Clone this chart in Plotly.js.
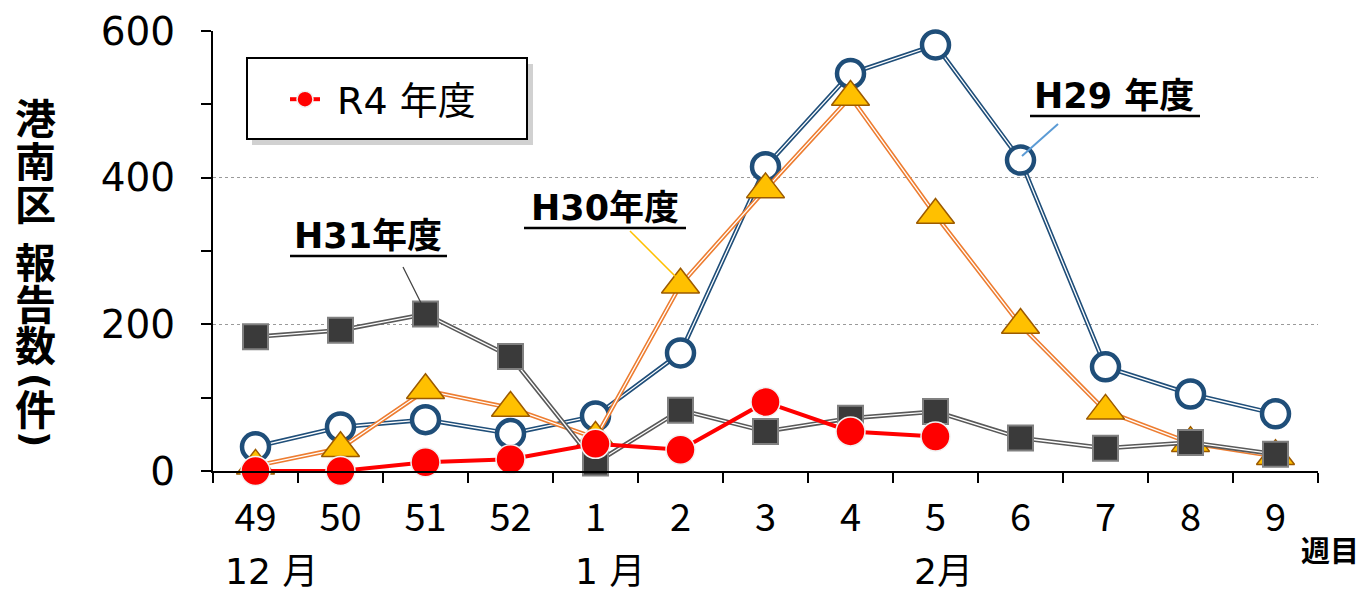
<!DOCTYPE html>
<html>
<head>
<meta charset="utf-8">
<script src="https://cdn.plot.ly/plotly-3.0.1.min.js"></script>
<style>html,body{margin:0;padding:0;background:#fff;}#chart{width:1365px;height:594px;}</style>
</head>
<body>
<div id="chart"></div>
<script>
// ---- data ----
const weeks = ['49','50','51','52','1','2','3','4','5','6','7','8','9'];
const h29 = [33, 60, 70, 51, 75, 161, 415, 542, 581, 424, 142, 105, 78];
const h30 = [7, 31, 110, 86, 45, 254, 384, 510, 349, 199, 82, 38, 20];
const h31 = [183, 192, 214, 156, 11, 83, 54, 72, 81, 45, 31, 39, 23];
const r4  = [0, 0, 12, 16, 37, 29, 94, 54, 47];
const r4Weeks = weeks.slice(0, r4.length);
const months = ['12 月', '1 月', '2月'];
const unitLabel = '週目';
// y-axis title, written vertically (parentheses are rotated)
const yTitleChars = ['港','南','区','報','告','数','(','件',')'];

// ---- layout helpers (pixel -> paper) ----
const L = 213, R = 1318, T = 31, B = 471;
const px = x => (x - L) / (R - L);
const py = y => (B - y) / (B - T);

const LATIN = "'DejaVu Sans', 'Noto Sans CJK JP', sans-serif";
const NARROW = "'Liberation Sans Narrow', 'Noto Sans CJK JP', sans-serif";
const CJK = "'Noto Sans CJK JP', sans-serif";

function doubleLine(x, y, color) {
  return [
    {x: x, y: y, type: 'scatter', mode: 'lines', line: {color: color, width: 4.5}, hoverinfo: 'skip', showlegend: false, cliponaxis: false},
    {x: x, y: y, type: 'scatter', mode: 'lines', line: {color: '#ffffff', width: 1.3}, hoverinfo: 'skip', showlegend: false, cliponaxis: false}
  ];
}

const traces = [
  ...doubleLine(weeks, h29, '#1F4E79'),
  {x: weeks, y: h29, type: 'scatter', mode: 'markers', name: 'H29 年度', showlegend: false, cliponaxis: false,
   marker: {symbol: 'circle', size: 27, color: '#ffffff', line: {color: '#1F4E79', width: 4.5}}},
  ...doubleLine(weeks, h30, '#ED7D31'),
  {x: weeks, y: h30, type: 'scatter', mode: 'markers', name: 'H30年度', showlegend: false, cliponaxis: false,
   marker: {symbol: 'triangle-up', size: 33, color: '#FFC000', line: {color: '#9C5A00', width: 1.5}}},
  ...doubleLine(weeks, h31, '#595959'),
  {x: weeks, y: h31, type: 'scatter', mode: 'markers', name: 'H31年度', showlegend: false, cliponaxis: false,
   marker: {symbol: 'square', size: 25, color: '#3A3A3A', line: {color: '#808080', width: 2}}},
  {x: r4Weeks, y: r4, type: 'scatter', mode: 'lines+markers', name: '\u00a0R4 年度', showlegend: true, cliponaxis: false,
   line: {color: '#FF0000', width: 4},
   marker: {symbol: 'circle', size: 29, color: '#FF0000', line: {color: '#F2F2F2', width: 1.5}}}
];

const annotations = [];
// series labels
const seriesLabels = [
  {t: 'H31年度', x: 368, y: 236},
  {t: 'H30年度', x: 605, y: 208},
  {t: 'H29 年度', x: 1114, y: 96}
];
seriesLabels.forEach(s => annotations.push({
  text: s.t, xref: 'paper', yref: 'paper', x: px(s.x), y: py(s.y), showarrow: false,
  xanchor: 'center', yanchor: 'middle', font: {family: LATIN, size: 35, color: '#000', weight: 'bold'}
}));
// month labels
const monthPos = [271, 610, 943];
months.forEach((m, i) => annotations.push({
  text: m, xref: 'paper', yref: 'paper', x: px(monthPos[i]), y: py(571), showarrow: false,
  xanchor: 'center', yanchor: 'middle', font: {family: LATIN, size: 36, color: '#000'}
}));
annotations.push({text: unitLabel, xref: 'paper', yref: 'paper', x: px(1330), y: py(549), showarrow: false,
  xanchor: 'center', yanchor: 'middle', font: {family: CJK, size: 29, color: '#000', weight: 'bold'}});
// vertical y title
const yTitlePos = [116, 159, 202, 260, 302, 343, 381, 407, 439];
const yTitleAngle = [0, 0, 0, 0, 0, 0, 90, 0, 90];
const yTitleFont = [CJK, CJK, CJK, CJK, CJK, CJK, LATIN, CJK, LATIN];
yTitleChars.forEach((c, i) => annotations.push({
  text: c, xref: 'paper', yref: 'paper', x: px(36), y: py(yTitlePos[i]), showarrow: false, textangle: yTitleAngle[i],
  xanchor: 'center', yanchor: 'middle', font: {family: yTitleFont[i], size: yTitleAngle[i] ? 36 : 41, color: '#000', weight: 'bold'}
}));

const shapes = [
  // legend shadow + box
  {type: 'rect', xref: 'paper', yref: 'paper', x0: px(252), x1: px(533), y0: py(64), y1: py(145), line: {width: 0}, fillcolor: 'rgba(0,0,0,0.18)', layer: 'above'},
  {type: 'rect', xref: 'paper', yref: 'paper', x0: px(247), x1: px(527), y0: py(58), y1: py(139), line: {color: '#000', width: 2}, fillcolor: '#ffffff', layer: 'above'},
  // underlines
  {type: 'line', xref: 'paper', yref: 'paper', x0: px(290), x1: px(447), y0: py(256), y1: py(256), line: {color: '#000', width: 2.5}},
  {type: 'line', xref: 'paper', yref: 'paper', x0: px(524), x1: px(686), y0: py(228), y1: py(228), line: {color: '#000', width: 2.5}},
  {type: 'line', xref: 'paper', yref: 'paper', x0: px(1030), x1: px(1200), y0: py(116), y1: py(116), line: {color: '#000', width: 2.5}},
  // leader lines
  {type: 'line', xref: 'paper', yref: 'paper', x0: px(403), x1: px(421), y0: py(267), y1: py(303), line: {color: '#404040', width: 1.2}},
  {type: 'line', xref: 'paper', yref: 'paper', x0: px(630), x1: px(680), y0: py(231), y1: py(281), line: {color: '#FFC000', width: 1.5}},
  {type: 'line', xref: 'paper', yref: 'paper', x0: px(1058), x1: px(1022), y0: py(124), y1: py(156), line: {color: '#5B9BD5', width: 2}}
];

const layout = {
  width: 1365, height: 594,
  margin: {l: L, r: 1365 - R, t: T, b: 594 - B, pad: 0},
  paper_bgcolor: '#ffffff', plot_bgcolor: '#ffffff',
  font: {family: LATIN, color: '#000'},
  showlegend: true,
  legend: {x: px(285), y: py(68), xanchor: 'left', yanchor: 'top', bgcolor: 'rgba(0,0,0,0)', borderwidth: 0,
           font: {family: LATIN, size: 38, color: '#000'}, itemsizing: 'trace'},
  xaxis: {
    type: 'category', categoryorder: 'array', categoryarray: weeks, range: [-0.5, 12.5],
    tickson: 'boundaries', ticks: 'outside', ticklen: 10, tickwidth: 2, tickcolor: '#000',
    showline: true, linecolor: '#000', linewidth: 2, showgrid: false, zeroline: false,
    tickfont: {family: NARROW, size: 38, color: '#000'}, ticklabelstandoff: 12, fixedrange: true
  },
  yaxis: {
    range: [0, 600], dtick: 200, tick0: 0, ticks: 'outside', ticklen: 10, tickwidth: 2, tickcolor: '#000',
    minor: {dtick: 100, ticks: 'outside', ticklen: 10, tickwidth: 2, tickcolor: '#000', showgrid: false},
    showline: true, linecolor: '#000', linewidth: 2, zeroline: false,
    showgrid: true, gridcolor: '#9a9a9a', gridwidth: 1.5, griddash: 'dot',
    tickfont: {family: LATIN, size: 39, color: '#000'}, ticklabelstandoff: 18, fixedrange: true
  },
  annotations: annotations,
  shapes: shapes
};

Plotly.newPlot('chart', traces, layout, {displayModeBar: false, staticPlot: true});
</script>
</body>
</html>
